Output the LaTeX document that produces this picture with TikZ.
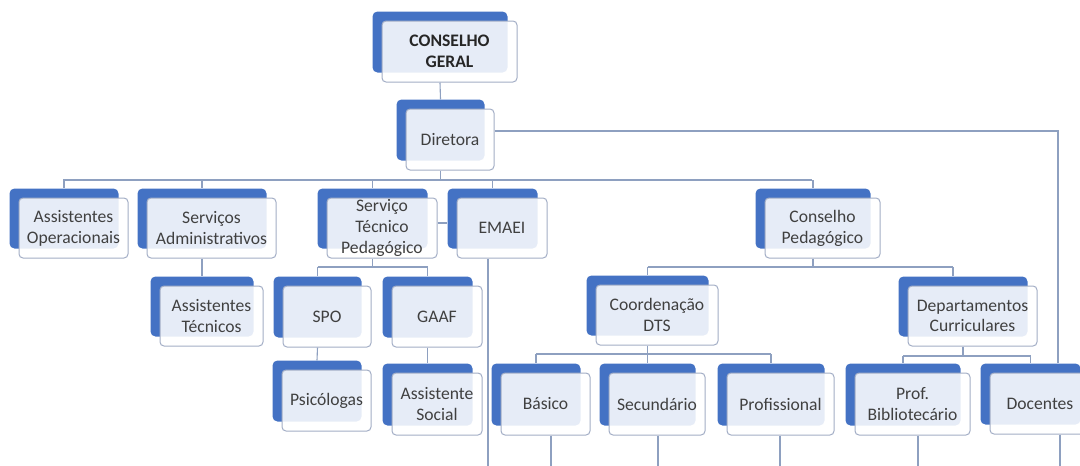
\documentclass[tikz,border=0pt]{standalone}
\usepackage{fontspec}
\setmainfont{Carlito}
\usetikzlibrary{backgrounds}
\definecolor{boxblue}{HTML}{4472C4}
\definecolor{edgegray}{HTML}{A3AEC6}
\definecolor{linecol}{HTML}{8EA0C0}
\definecolor{txt}{HTML}{404040}
\tikzset{
  backbox/.style={fill=boxblue, draw=none, rounded corners=5pt, inner sep=0pt},
  frontbox/.style={draw=edgegray, line width=1pt, fill=white, fill opacity=0.87, text opacity=1,
    rounded corners=4pt, inner sep=0pt, align=center, text=txt,
    font=\fontsize{17.6}{20.8}\selectfont},
  conn/.style={draw=linecol, line width=1.1pt},
}
\newcommand\orgbox[6]{%
  \pgfmathsetmacro\bw{#4-#2}\pgfmathsetmacro\bh{#5-#3}%
  \pgfmathsetmacro\cx{(#2+#4)/2}\pgfmathsetmacro\cy{(#3+#5)/2}%
  \node[backbox, minimum width=\bw pt, minimum height=\bh pt] (#1B) at (\cx-9.5,\cy-9.5) {};
  \node[frontbox, minimum width=\bw pt, minimum height=\bh pt] (#1) at (\cx,\cy) {#6};
}
\begin{document}
\begin{tikzpicture}[x=1pt,y=-1pt]
\useasboundingbox (0,0) rectangle (1080,466);
\orgbox{cg}{382}{21}{517}{82}{\textbf{\color{black!85}CONSELHO}\\\textbf{\color{black!85}GERAL}}
\orgbox{dir}{406}{109}{494}{170}{Diretora}
\orgbox{ao}{19}{198}{128}{258}{Assistentes\\Operacionais}
\orgbox{sa}{147}{198}{276}{258}{Serviços\\Administrativos}
\orgbox{stp}{327}{198}{437}{258}{Serviço\\Técnico\\Pedagógico}
\orgbox{emaei}{457}{198}{547}{258}{EMAEI}
\orgbox{cp}{765}{198}{880}{258}{Conselho\\Pedagógico}
\orgbox{at}{160}{286}{263}{346}{Assistentes\\Técnicos}
\orgbox{spo}{283}{286}{371}{347}{SPO}
\orgbox{gaaf}{392}{286}{482}{347}{GAAF}
\orgbox{cdts}{596}{285}{718}{345}{Coordenação\\DTS}
\orgbox{dc}{908}{286}{1037}{346}{Departamentos\\Curriculares}
\orgbox{psi}{282}{370}{371}{431}{Psicólogas}
\orgbox{as}{392}{373}{482}{435}{Assistente\\Social}
\orgbox{bas}{501}{373}{590}{435}{Básico}
\orgbox{sec}{609}{373}{705}{435}{Secundário}
\orgbox{pro}{727}{373}{834}{435}{Profissional}
\orgbox{pb}{855}{373}{970}{435}{Prof.\\Bibliotecário}
\orgbox{doc}{990}{373}{1090}{434}{Docentes}
\begin{scope}[on background layer]
  \fill[white] (0,0) rectangle (1080,466);
  % named bus coordinates
  \coordinate (busA) at (63,180);
  \coordinate (busAR) at (812,180);
  \coordinate (busB) at (0,267);
  \coordinate (cpR) at (953,267);
  \coordinate (busC) at (0,354);
  \coordinate (busD) at (0,356);
  \coordinate (dirR) at (1058,131);
  \coordinate (stubY) at (0,223);
  \coordinate (eBot) at (488,466);
  \coordinate (basBot) at (551,466);
  \coordinate (secBot) at (658,466);
  \coordinate (proBot) at (780,466);
  \coordinate (pbBot) at (918,466);
  \coordinate (docBot) at (1060,466);
  % top levels
  \draw[conn] (cgB.center |- cg.south) -- (dirB.north);
  \draw[conn] (dirB.center |- dir.south) -- (dirB.center |- busA);
  \draw[conn] (busA) -- (busAR);
  \foreach \c in {ao,sa,stp,emaei,cp}
    \draw[conn] (\c B.north |- busA) -- (\c B.north);
  \draw[conn] (dir.east |- dirR) -- (dirR) -- (dirR |- docB.north);
  % Servicos Administrativos
  \draw[conn] (saB.center |- sa.south) -- (atB.north);
  % STP
  \draw[conn] (stpB.center |- stp.south) -- (stpB.center |- busB);
  \draw[conn] (spoB.north |- busB) -- (gaafB.north |- busB);
  \draw[conn] (spoB.north |- busB) -- (spoB.north);
  \draw[conn] (gaafB.north |- busB) -- (gaafB.north);
  \draw[conn] (stp.east |- stubY) -- (emaeiB.west |- stubY);
  \draw[conn] (spoB.center |- spo.south) -- (psiB.north);
  \draw[conn] (gaafB.center |- gaaf.south) -- (asB.north);
  % Conselho Pedagogico
  \draw[conn] (cpB.center |- cp.south) -- (cpB.center |- busB);
  \draw[conn] (cdtsB.north |- busB) -- (cpR);
  \draw[conn] (cdtsB.north |- busB) -- (cdtsB.north);
  \draw[conn] (cpR) -- (cpR |- dcB.north);
  % Coordenacao DTS
  \draw[conn] (cdtsB.center |- cdts.south) -- (cdtsB.center |- busC);
  \draw[conn] (basB.north |- busC) -- (proB.north |- busC);
  \foreach \c in {bas,sec,pro}
    \draw[conn] (\c B.north |- busC) -- (\c B.north);
  % Departamentos
  \draw[conn] (dcB.center |- dc.south) -- (dcB.center |- busD);
  \draw[conn] (pbB.north |- busD) -- (docB.north |- busD);
  \foreach \c in {pb,doc}
    \draw[conn] (\c B.north |- busD) -- (\c B.north);
  % lines running off the bottom
  \draw[conn] (eBot |- emaei.south) -- (eBot);
  \draw[conn] (basBot |- bas.south) -- (basBot);
  \draw[conn] (secBot |- sec.south) -- (secBot);
  \draw[conn] (proBot |- pro.south) -- (proBot);
  \draw[conn] (pbBot |- pb.south) -- (pbBot);
  \draw[conn] (docBot |- doc.south) -- (docBot);
\end{scope}
\end{tikzpicture}
\end{document}
